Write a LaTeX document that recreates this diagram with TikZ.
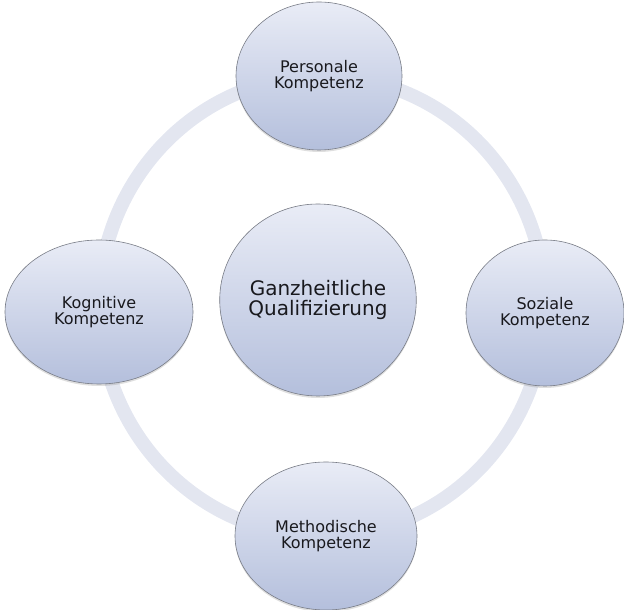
\documentclass[tikz,border=0pt]{standalone}
\usepackage{fontspec}
\setmainfont{DejaVu Sans}
\usepackage{tikz}
\usetikzlibrary{shapes.geometric,shadows}

\definecolor{ringcol}{RGB}{227,230,240}
\definecolor{toptone}{RGB}{233,236,246}
\definecolor{bottone}{RGB}{180,191,220}
\definecolor{rimcol}{RGB}{120,124,134}
\definecolor{inkcol}{RGB}{25,25,30}

\tikzset{
  kompetenz/.style={ellipse,draw=rimcol,line width=0.6pt,top color=toptone,bottom color=bottone,
    text=inkcol,align=center,font=\fontsize{16}{16}\selectfont,inner sep=0pt,
    drop shadow={shadow xshift=0pt,shadow yshift=-2pt,opacity=0.25}},
  ring/.style={draw=ringcol,line width=14pt}
}

\begin{document}
\begin{tikzpicture}[x=1pt,y=1pt]
  \useasboundingbox (0,0) rectangle (624,610);

  % ring behind the circles
  \coordinate (hub) at (322,304);
  \draw[ring] (hub) ellipse [x radius=223,y radius=230];

  \node[kompetenz,minimum width=192,minimum height=192,font=\fontsize{20}{20}\selectfont] (qual) at (318,310) {Ganzheitliche\\Qualifizierung}; % centre
  \node[kompetenz,minimum width=166,minimum height=148] (pers) at (319,534) {Personale\\Kompetenz};
  \node[kompetenz,minimum width=188,minimum height=144] (kogn) at (99,298) {Kognitive\\Kompetenz};
  \node[kompetenz,minimum width=158,minimum height=146] (soz) at (545,297) {Soziale\\Kompetenz};
  \node[kompetenz,minimum width=182,minimum height=148] (meth) at (326,74) {Methodische\\Kompetenz};

\end{tikzpicture}
\end{document}
